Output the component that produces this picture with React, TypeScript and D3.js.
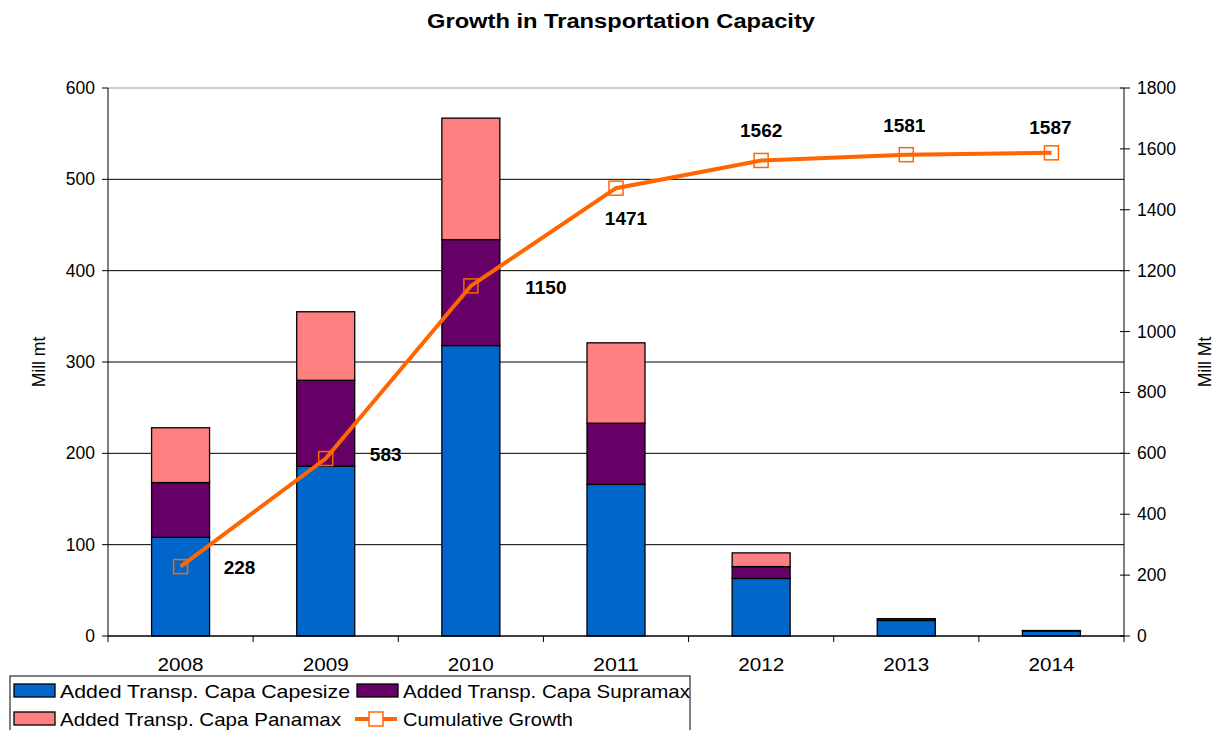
import React from "react";
import * as d3 from "d3";

const years = ["2008", "2009", "2010", "2011", "2012", "2013", "2014"];
const capesize = [108, 186, 318, 166, 63, 17, 5.5];
const supramax = [60, 94, 116, 67, 13, 2, 0.5];
const panamax = [60, 75, 133, 88, 15, 0, 0];
const cumulative = [228, 583, 1150, 1471, 1562, 1581, 1587];
const leftTicks = [0, 100, 200, 300, 400, 500, 600];
const rightTicks = [0, 200, 400, 600, 800, 1000, 1200, 1400, 1600, 1800];
// label placement: dx, dy (baseline) relative to the point
const labelPos = [
  [59, 7], [60, 2], [75, 8], [10, 37], [0, -23], [-2, -23], [-1, -19],
];

const W = 1214, H = 730;
const L = 108, R = 1124, T = 88, B = 636;
const font = "Liberation Sans, Arial, sans-serif";

export default function App() {
  const xc = d3.scaleBand().domain(years).range([L, R]);
  const y = d3.scaleLinear().domain([0, 600]).range([B, T]);
  const y2 = d3.scaleLinear().domain([0, 1800]).range([B, T]);
  const bw = 58;
  const series = [
    { name: "Added Transp. Capa Capesize", vals: capesize, color: "#0066CC", len: 290 },
    { name: "Added Transp. Capa Supramax", vals: supramax, color: "#660066", len: 287 },
    { name: "Added Transp. Capa Panamax", vals: panamax, color: "#FF8080", len: 281 },
  ];
  const cx = (i: number) => (xc(years[i]) as number) + xc.bandwidth() / 2;
  const line = d3.line<number>().x((_, i) => cx(i)).y((d) => y2(d));

  const rects: React.ReactNode[] = [];
  years.forEach((yr, i) => {
    let base = 0;
    series.forEach((s, k) => {
      const v = s.vals[i];
      if (v > 0) {
        rects.push(
          <rect key={yr + k} x={cx(i) - bw / 2} y={y(base + v)} width={bw}
            height={y(base) - y(base + v)} fill={s.color} stroke="#000" strokeWidth={1.3} />
        );
      }
      base += v;
    });
  });

  return (
    <svg width={W} height={H} style={{ position: "absolute", left: 0, top: 0 }} fontFamily={font}>
      <rect width={W} height={H} fill="#fff" />
      <text x={621} y={28} textAnchor="middle" fontSize={20} fontWeight="bold"
        textLength={388} lengthAdjust="spacingAndGlyphs">Growth in Transportation Capacity</text>
      {leftTicks.filter((t) => t > 0).map((t) => (
        <line key={t} x1={L} x2={R} y1={y(t)} y2={y(t)} stroke={t === 600 ? "#999" : "#000"} strokeWidth={1} />
      ))}
      {rects}
      {/* left axis */}
      <line x1={L} x2={L} y1={T} y2={B} stroke="#000" />
      {leftTicks.map((t) => (
        <g key={t}>
          <line x1={L - 6} x2={L} y1={y(t)} y2={y(t)} stroke="#000" />
          <text x={L - 13} y={y(t) + 6} textAnchor="end" fontSize={17.5}>{t}</text>
        </g>
      ))}
      {/* right axis */}
      <line x1={R} x2={R} y1={T} y2={B} stroke="#000" />
      {rightTicks.map((t) => (
        <g key={t}>
          <line x1={R - 4} x2={R + 6} y1={y2(t)} y2={y2(t)} stroke="#000" />
          <text x={R + 13} y={y2(t) + 6} textAnchor="start" fontSize={17.5}>{t}</text>
        </g>
      ))}
      {/* x axis */}
      <line x1={L} x2={R} y1={B} y2={B} stroke="#000" strokeWidth={1.5} />
      {d3.range(years.length + 1).map((i) => {
        const xx = L + i * xc.bandwidth();
        return <line key={i} x1={xx} x2={xx} y1={B} y2={B + 6} stroke="#000" />;
      })}
      {years.map((yr, i) => (
        <text key={yr} x={cx(i)} y={671} textAnchor="middle" fontSize={19}
          textLength={46} lengthAdjust="spacingAndGlyphs">{yr}</text>
      ))}
      <text transform={`translate(45,${(T + B) / 2}) rotate(-90)`} textAnchor="middle" fontSize={17.5}>Mill mt</text>
      <text transform={`translate(1211,${(T + B) / 2}) rotate(-90)`} textAnchor="middle" fontSize={17.5}>Mill Mt</text>
      {/* cumulative line */}
      <path d={line(cumulative) as string} fill="none" stroke="#FF6600" strokeWidth={4} />
      {cumulative.map((v, i) => (
        <rect key={i} x={cx(i) - 7} y={y2(v) - 7} width={14} height={14} fill="none" stroke="#FF6600" strokeWidth={1.5} />
      ))}
      {cumulative.map((v, i) => (
        <text key={"l" + i} x={cx(i) + labelPos[i][0]} y={y2(v) + labelPos[i][1]} textAnchor="middle"
          fontSize={19} fontWeight="bold">{v}</text>
      ))}
      {/* legend */}
      <rect x={10} y={676} width={680} height={60} fill="#fff" stroke="#000" strokeWidth={1} />
      {series.map((s, k) => {
        const col = k === 1 ? 1 : 0;
        const row = k === 2 ? 1 : 0;
        const lx = col ? 357 : 14;
        const ly = row ? 719 : 691;
        return (
          <g key={s.name}>
            <rect x={lx} y={ly - 7} width={41} height={13} fill={s.color} stroke="#000" strokeWidth={1.3} />
            <text x={lx + 46} y={ly + 7} fontSize={19} textLength={s.len} lengthAdjust="spacingAndGlyphs">{s.name}</text>
          </g>
        );
      })}
      <line x1={355} x2={397} y1={719} y2={719} stroke="#FF6600" strokeWidth={4} />
      <rect x={369} y={712} width={14} height={14} fill="#fff" stroke="#FF6600" strokeWidth={1.5} />
      <text x={403} y={726} fontSize={19} textLength={170} lengthAdjust="spacingAndGlyphs">Cumulative Growth</text>
    </svg>
  );
}
